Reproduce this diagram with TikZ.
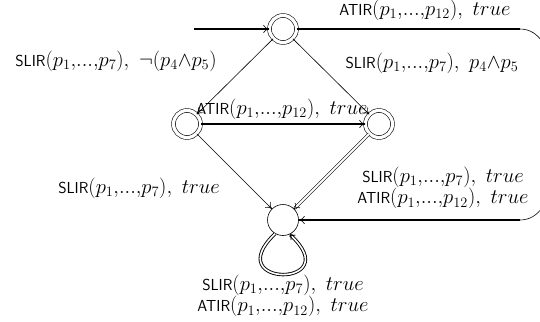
\RequirePackage{fix-cm}
\documentclass[tikz,border=0pt]{standalone}
\usepackage{fontspec}
\usepackage{amsmath}
\usetikzlibrary{arrows.meta}
\tikzset{
  dstate/.style={circle,draw,line width=0.6bp,double,double distance=3.2bp,minimum size=27bp,inner sep=0pt},
  sstate/.style={circle,draw,line width=0.6bp,minimum size=31bp,inner sep=0pt},
  thinedge/.style={line width=0.6bp,-{To[length=6bp,width=8bp]}},
  thickedge/.style={line width=1.8bp,-{To[length=6bp,width=8bp,line width=0.6bp]}},
  dbledge/.style={line width=0.6bp,double,double distance=1.8bp,-{To[length=5bp,width=7bp]}},
  lbl/.style={font=\fontsize{20.74}{20}\selectfont,inner sep=0pt,align=center},
}
\newcommand{\SL}{\textsf{\fontsize{16}{20}\selectfont SLIR}$(p_1{,}...{,}p_7)$}
\newcommand{\AT}{\textsf{\fontsize{16}{20}\selectfont ATIR}$(p_1{,}...{,}p_{12})$}
\newcommand{\TR}{$,\ true$}
\begin{document}
\begin{tikzpicture}[x=1bp,y=-1bp]
\useasboundingbox (0,0) rectangle (540,321);
\clip (0,0) rectangle (540,321);
\node[dstate] (T) at (283,29) {};
\node[dstate] (L) at (187,124) {};
\node[dstate] (R) at (379,124) {};
\node[sstate] (B) at (283,220) {};
\coordinate (S) at (194,29);
\coordinate (C1) at (520,29);
\coordinate (C2) at (520,220);
\coordinate (E1) at (550,70);
\coordinate (E2) at (550,180);
% initial
\draw[thickedge] (S) -- (T);
% T -> B around right
\draw[line width=1.8bp] (T) -- (C1);
\draw[line width=0.6bp] (C1) to[out=0,in=90] (E1) -- (E2) to[out=-90,in=0] (C2);
\draw[thickedge] (C2) -- (B);
% edges
\draw[thinedge] (T) -- (L);
\draw[thinedge] (T) -- (R);
\draw[thickedge] (L) -- (R);
\draw[thinedge] (L) -- (B);
\draw[dbledge] (R) -- (B);
\draw[line width=0.9bp,double,double distance=1.6bp,-{To[length=5bp,width=7bp]}]
  (B.240) .. controls (218,288) and (348,288) .. (B.295);
% labels
\node[lbl] (l1) at (425,10) {\AT\TR};
\node[lbl] (l2) at (116,61) {\SL$,\ \neg(p_4{\wedge}p_5)$};
\node[lbl] (l3) at (432,63) {\SL$,\ p_4{\wedge}p_5$};
\node[lbl] (l4) at (282,109) {\AT\TR};
\node[lbl] (l5) at (139,188) {\SL\TR};
\node[lbl] (l6) at (443,188) {\SL\TR\\\AT\TR};
\node[lbl] (l7) at (283,296) {\SL\TR\\\AT\TR};
\end{tikzpicture}
\end{document}
